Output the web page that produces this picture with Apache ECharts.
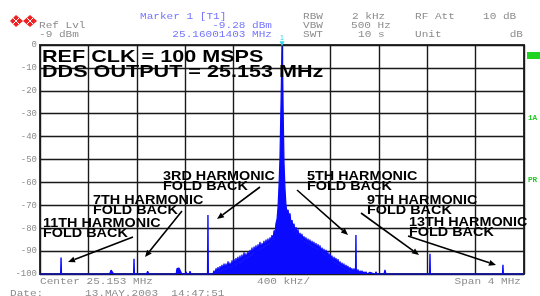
<!DOCTYPE html>
<html>
<head>
<meta charset="utf-8">
<script src="https://cdn.jsdelivr.net/npm/echarts@6/dist/echarts.min.js"></script>
<style>
  html, body { margin: 0; padding: 0; background: #fff; }
  #chart { width: 540px; height: 296px; }
</style>
</head>
<body>
<div id="chart"></div>
<script>
// x = offset from centre 25.153 MHz in kHz, y = dB below ref level (-9 dBm)
var spanKHz = [-2000, 2000];
var divKHz = 400;
var dbRange = [-100, 0];
var divDb = 10;

// noise floor with small bumps
var floorPts = [
  [-2000, -100], [-1965, -100], [-1959, -99.2], [-1953, -100],
  [-1425, -100], [-1413, -98.3], [-1400, -98.6], [-1390, -100],
  [-1120, -100], [-1110, -98.8], [-1100, -100],
  [-875, -100], [-868, -97.6], [-851, -97.4], [-835, -97.8], [-828, -100],
  [-800, -100], [-793, -99], [-786, -100],
  [-767, -100], [-760, -98.8], [-753, -100],
  [-718, -100], [-711, -99.3], [-704, -100],
  [-642, -100], [-636, -99.5], [-630, -100],
  [770, -100], [777, -99], [784, -100],
  [843, -100], [851, -98.2], [859, -100],
  [952, -100], [959, -99.3], [966, -100],
  [1133, -100], [1140, -99.5], [1147, -100],
  [2000, -100]
];

// phase-noise skirt round the carrier
var skirtPts = [
  [-570, -100], [-562, -98.5], [-554, -100], [-545, -97.5], [-537, -99.5], [-529, -97],
  [-520, -99.5], [-512, -96.5], [-504, -99], [-496, -96], [-488, -98.5], [-479, -95.5],
  [-471, -98.5], [-463, -95.5], [-455, -98], [-446, -94.5], [-438, -97.5], [-430, -95],
  [-421, -97.5], [-413, -94], [-405, -97], [-397, -93.5], [-388, -96.5], [-380, -93],
  [-372, -96], [-364, -92.5], [-355, -95.5], [-347, -92], [-339, -95.5], [-331, -91.5],
  [-322, -94.5], [-314, -90.5], [-306, -94], [-298, -91], [-289, -93.5], [-281, -90],
  [-273, -93], [-264, -89.5], [-256, -92.5], [-248, -88.5], [-240, -92], [-231, -88],
  [-223, -91], [-215, -87.5], [-207, -90.5], [-198, -87], [-190, -90], [-182, -86],
  [-174, -89.5], [-165, -86.5], [-157, -89], [-149, -85.5], [-141, -88.5], [-132, -85],
  [-124, -88], [-116, -84.5], [-107, -87.5], [-99, -84], [-91, -86.5], [-83, -83],
  [-74, -85], [-66, -81], [-58, -82.5], [-50, -78], [-41, -76], [-33, -71],
  [-25, -62], [-17, -50], [-8, -25],
  [0, -0.3],
  [8, -25], [17, -52], [25, -63], [33, -70], [41, -73], [50, -72],
  [58, -75], [66, -73.5], [74, -78], [83, -76.5], [91, -80], [99, -78],
  [107, -81.5], [116, -79.5], [124, -83], [132, -80.5], [141, -84], [149, -82],
  [157, -85], [165, -82.5], [174, -85.5], [182, -83.5], [190, -86.5], [198, -84],
  [207, -87], [215, -84.5], [223, -87.5], [231, -85], [240, -88], [248, -85.5],
  [256, -88.5], [264, -86], [273, -89], [281, -86.5], [289, -89.5], [298, -87],
  [306, -90], [314, -87.5], [322, -90.5], [331, -88.5], [339, -91.5], [347, -89],
  [355, -92], [364, -89.5], [372, -92.5], [380, -90.5], [388, -93.5], [397, -91],
  [405, -94], [413, -92], [421, -95], [430, -92.5], [438, -95.5], [446, -93],
  [455, -96], [463, -93.5], [471, -96.5], [479, -94.5], [488, -97], [496, -95],
  [504, -97.5], [512, -95.5], [520, -98], [529, -96], [537, -98.5], [545, -96.5],
  [554, -99], [562, -97], [570, -99], [578, -97.5], [587, -99.5], [595, -97.5],
  [603, -99.5], [611, -98], [620, -100], [628, -98], [636, -100], [645, -98.5],
  [653, -100], [661, -98.5], [670, -100], [678, -99], [686, -100], [694, -99],
  [703, -100], [711, -99.3], [719, -100], [727, -99.3], [736, -100], [744, -99.6],
  [752, -100]
];

// harmonic fold-back spurs
var spurNames = ['11TH', '7TH', '3RD', '5TH', '9TH', '13TH'];
var spurFreq = [-1826, -1223, -612, 611, 1223, 1826];
var spurLevel = [-92.8, -93.4, -74.2, -83, -91.2, -96];

var carrier = [0, -0.3];

var trace = floorPts.concat(skirtPts).sort(function (a, b) { return a[0] - b[0]; });

var spurData = [];
for (var i = 0; i < spurFreq.length; i++) {
  spurData.push([spurFreq[i] - 3, dbRange[0]], [spurFreq[i], spurLevel[i]], [spurFreq[i] + 3, dbRange[0]], null);
}

var BLUE = '#0a0aff';
var GREY = '#8c8c8c';
var MBLUE = '#7474ff';

function t(x, y, s, o) {
  o = o || {};
  return {
    type: 'text', x: x, y: y, scaleX: o.sx || 1.23, z: 10,
    style: {
      text: s, fill: o.c || GREY, font: o.font || '9px "Liberation Mono"',
      textAlign: o.align || 'left', textVerticalAlign: 'middle'
    }
  };
}
function bold(x, y, s, size, sx) {
  return t(x, y, s, { sx: sx, c: '#000', font: 'bold ' + size + 'px "Liberation Sans"' });
}
function arrow(x1, y1, x2, y2) {
  var a = Math.atan2(y2 - y1, x2 - x1), L = 7, W = 3;
  var bx = x2 - L * Math.cos(a), by = y2 - L * Math.sin(a);
  return [
    { type: 'line', z: 10, shape: { x1: x1, y1: y1, x2: bx, y2: by }, style: { stroke: '#000', lineWidth: 1.6 } },
    { type: 'polygon', z: 10, shape: { points: [[x2, y2], [bx - W * Math.sin(a), by + W * Math.cos(a)], [bx + W * Math.sin(a), by - W * Math.cos(a)]] }, style: { fill: '#000' } }
  ];
}

var labels = [
  [43, 224], [93, 201], [163, 177], [307, 177], [367, 201], [409, 223]
];
var arrows = [
  [133, 237, 68, 262], [182, 211, 145, 257], [260, 187, 217, 219],
  [297, 190, 348, 235], [361, 213, 419, 255], [408, 236, 496, 265]
];

var g = [
  // R&S logo
  { type: 'polygon', shape: { points: [[10, 21], [16, 15], [23, 21], [16, 27]] }, style: { fill: '#ee2222' } },
  { type: 'polygon', shape: { points: [[23, 21], [30, 15], [37, 21], [30, 27]] }, style: { fill: '#ee2222' } },
  { type: 'polyline', shape: { points: [[13, 18], [19, 24]] }, style: { stroke: '#fff', lineWidth: 1 } },
  { type: 'polyline', shape: { points: [[13, 24], [19, 18]] }, style: { stroke: '#fff', lineWidth: 1 } },
  { type: 'polyline', shape: { points: [[27, 18], [33, 24]] }, style: { stroke: '#fff', lineWidth: 1 } },
  { type: 'polyline', shape: { points: [[27, 24], [33, 18]] }, style: { stroke: '#fff', lineWidth: 1 } },
  t(39, 26, 'Ref Lvl'),
  t(39, 35, '-9 dBm'),
  t(140, 17, 'Marker 1 [T1]', { c: MBLUE }),
  t(272, 26, '-9.28 dBm', { c: MBLUE, align: 'right' }),
  t(272, 35, '25.16001403 MHz', { c: MBLUE, align: 'right' }),
  t(303, 17, 'RBW'), t(352, 17, '2 kHz'), t(415, 17, 'RF Att'), t(483, 17, '10 dB'),
  t(303, 26, 'VBW'), t(351, 26, '500 Hz'),
  t(303, 35, 'SWT'), t(358, 35, '10 s'), t(415, 35, 'Unit'), t(523, 35, 'dB', { align: 'right' }),
  t(40, 282, 'Center 25.153 MHz'),
  t(257, 282, '400 kHz/'),
  t(521, 282, 'Span 4 MHz', { align: 'right' }),
  t(10, 294, 'Date:'),
  t(85, 294, '13.MAY.2003  14:47:51'),
  // side softkey marks
  { type: 'rect', shape: { x: 527, y: 52, width: 14, height: 7 }, style: { fill: '#22d422' } },
  t(528, 118, '1A', { c: '#22cc22', font: 'bold 7px "Liberation Mono"', sx: 1.1 }),
  t(528, 180, 'PR', { c: '#22cc22', font: 'bold 7px "Liberation Mono"', sx: 1.1 }),
  bold(42, 57, 'REF CLK = 100 MSPS', 17, 1.27),
  bold(42, 72.5, 'DDS OUTPUT = 25.153 MHz', 17, 1.27)
];
for (var k = 0; k < spurNames.length; k++) {
  g.push(bold(labels[k][0], labels[k][1], spurNames[k] + ' HARMONIC', 12, 1.2));
  g.push(bold(labels[k][0], labels[k][1] + 10, 'FOLD BACK', 12, 1.2));
  g = g.concat(arrow.apply(null, arrows[k]));
}

var chart = echarts.init(document.getElementById('chart'));
chart.setOption({
  animation: false,
  backgroundColor: '#fff',
  grid: { left: 40, right: 16, top: 45, bottom: 22, show: true, borderColor: '#333', borderWidth: 2 },
  xAxis: {
    type: 'value', min: spanKHz[0], max: spanKHz[1], interval: divKHz,
    axisLine: { show: false }, axisTick: { show: false }, axisLabel: { show: false },
    splitLine: { show: true, lineStyle: { color: '#1a1a1a', width: 1.4 } }
  },
  yAxis: {
    type: 'value', min: dbRange[0], max: dbRange[1], interval: divDb,
    axisLine: { show: false }, axisTick: { show: false },
    axisLabel: { color: GREY, fontSize: 9, fontFamily: 'Liberation Mono', margin: 3 },
    splitLine: { show: true, lineStyle: { color: '#1a1a1a', width: 1.4 } }
  },
  series: [
    {
      type: 'line', data: trace, symbol: 'none', clip: false, z: 3,
      lineStyle: { color: BLUE, width: 1.2 },
      areaStyle: { color: BLUE, opacity: 1, origin: 'start' },
      markPoint: {
        symbol: 'triangle', symbolRotate: 180, symbolSize: 5, symbolOffset: [0, -2],
        itemStyle: { color: '#33d6e6' },
        label: { show: true, position: 'top', distance: 0, formatter: '1', color: '#33d6e6', fontSize: 7 },
        data: [{ coord: carrier }]
      }
    },
    {
      type: 'line', data: spurData, symbol: 'none', connectNulls: false, z: 3,
      lineStyle: { color: BLUE, width: 1.4 }
    }
  ],
  graphic: g
});
</script>
</body>
</html>
